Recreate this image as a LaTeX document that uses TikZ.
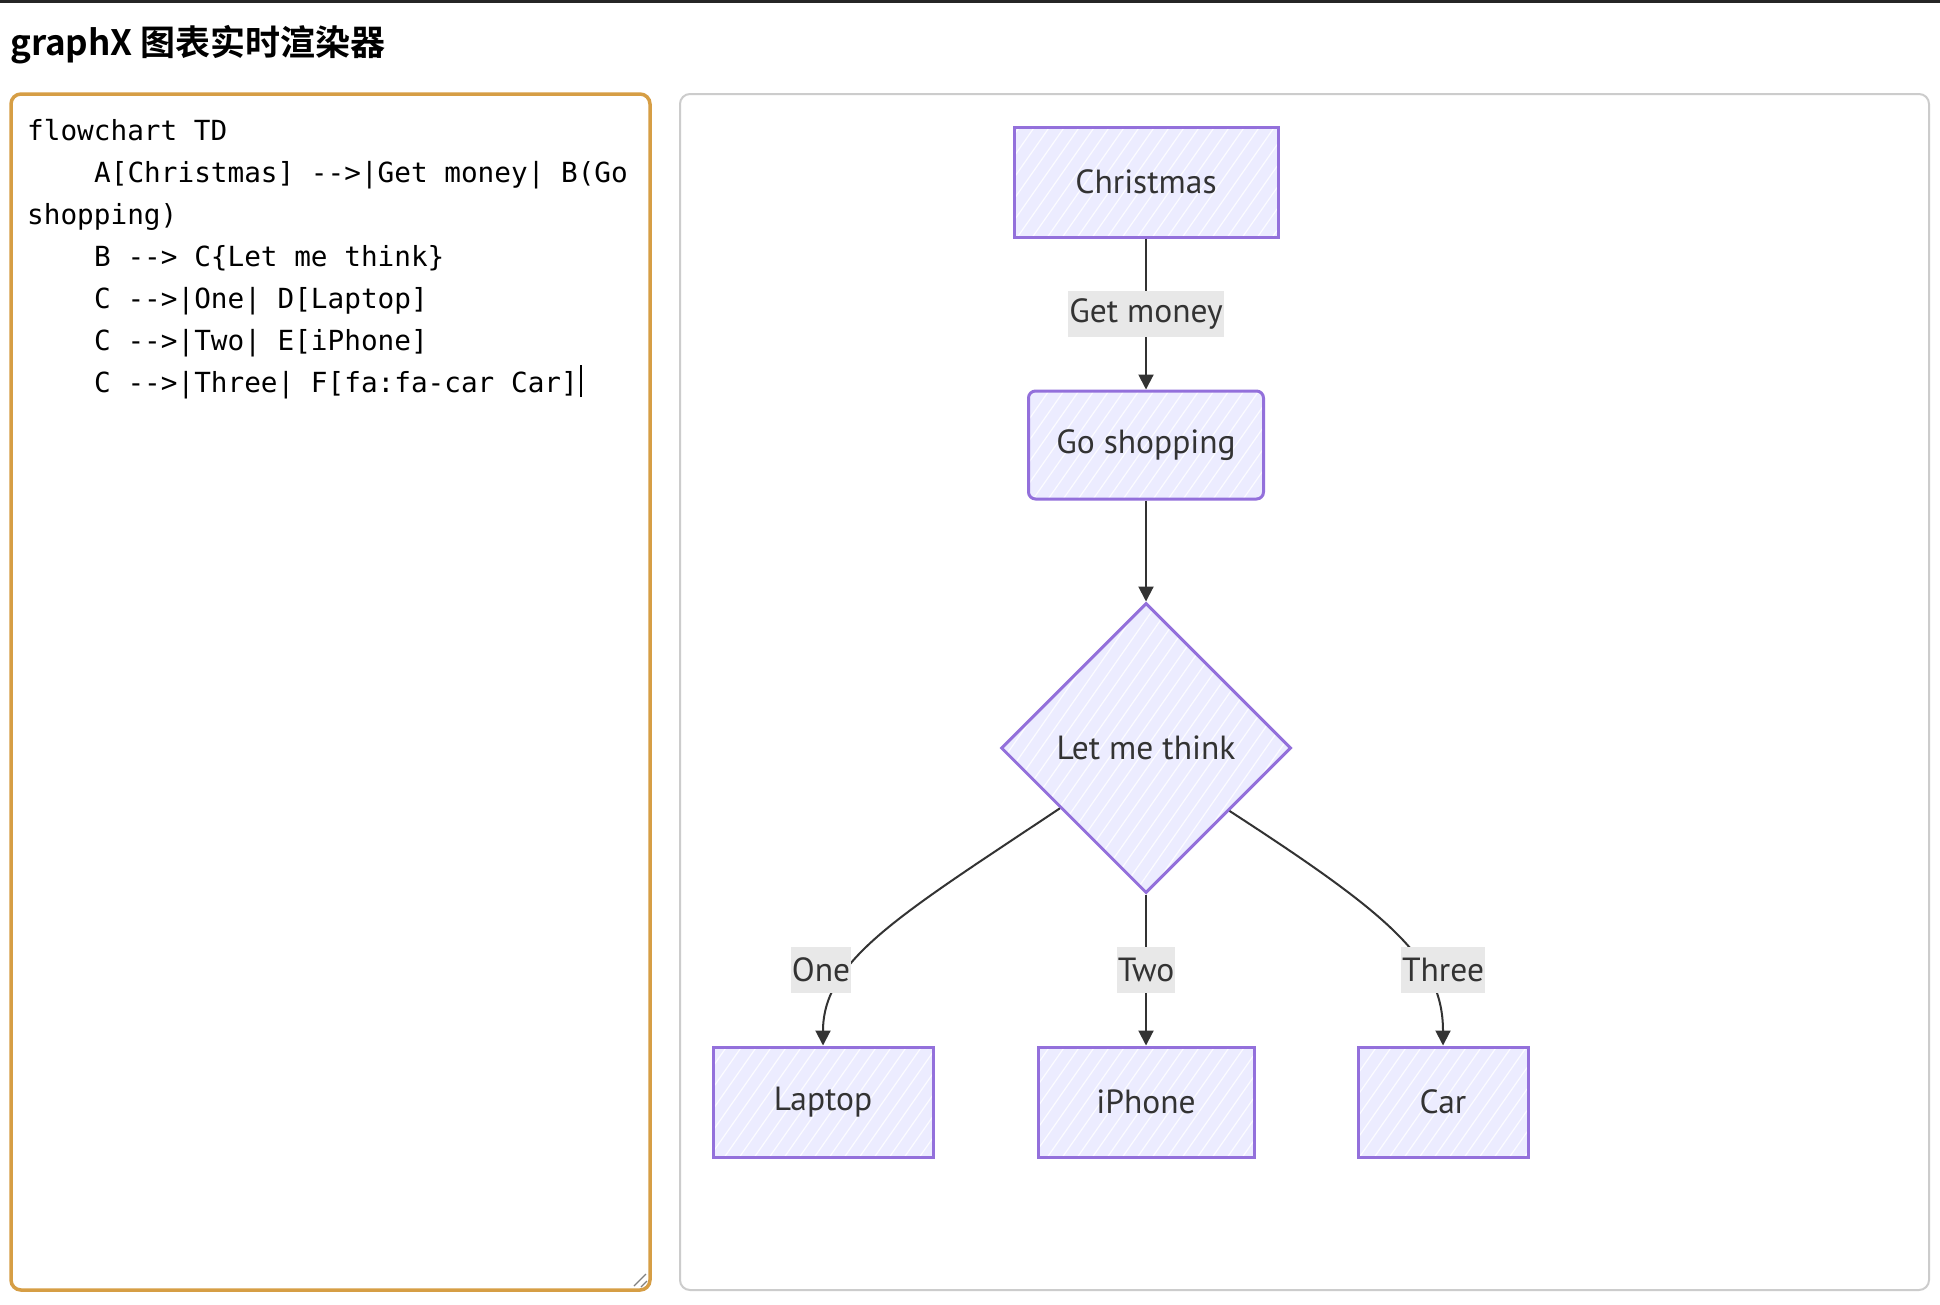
\documentclass[tikz,border=0pt]{standalone}
\usepackage{fontspec}
\setmainfont{PT Sans}
\setmonofont{DejaVu Sans Mono}
\newfontfamily\cjk{Noto Sans CJK SC}[BoldFont={Noto Sans CJK SC Bold}]
\usetikzlibrary{shapes.geometric,arrows.meta,calc}
\definecolor{nodefill}{HTML}{ECECFF}
\definecolor{nodeline}{HTML}{9370DB}
\definecolor{edgeline}{HTML}{333333}
\definecolor{labelfill}{HTML}{E8E8E8}
\definecolor{editline}{HTML}{D69E45}
\definecolor{panelline}{HTML}{CCCCCC}
\begin{document}
\begin{tikzpicture}[x=1pt,y=-1pt,
  sketch/.style={draw=nodeline,line width=3pt,fill=nodefill,inner sep=0pt,text=edgeline,
    font=\fontsize{33.5pt}{40pt}\selectfont,
    path picture={\foreach \k in {-25,...,25}{
      \draw[white,line width=1.2pt,opacity=.85] ($(path picture bounding box.center)+(\k*15pt,0pt)$) ++(55:-300pt) -- ++(55:600pt);}}},
  box/.style={sketch,rectangle,minimum height=110pt},
  elabel/.style={fill=labelfill,text=edgeline,inner xsep=1pt,inner ysep=0pt,minimum height=46pt,
    font=\fontsize{33.5pt}{40pt}\selectfont},
  edge/.style={draw=edgeline,line width=2pt,-{Triangle[length=15pt,width=15pt]}},
  code/.style={anchor=base west,inner sep=0pt,font=\ttfamily\fontsize{27.7pt}{34pt}\selectfont}]

\useasboundingbox (0,0) rectangle (1940,1304);
\fill[white] (0,0) rectangle (1940,1304);
\fill[black!85] (0,0) rectangle (1940,3);

\node[anchor=base west,inner sep=0pt,font=\cjk\bfseries\fontsize{35pt}{42pt}\selectfont] (title) at (10,55) {graphX 图表实时渲染器};

\draw[editline,line width=3.5pt,rounded corners=10pt] (11,94) rectangle (650,1290);
\draw[panelline,line width=2pt,rounded corners=10pt] (680,94) rectangle (1929,1290);
\draw[gray,line width=1.2pt] (634,1286) -- (646,1274) (641,1287) -- (647,1281);

\node[code] (line1) at (27,140) {flowchart TD};
\node[code] (line2) at (94,182) {A[Christmas] -->|Get money| B(Go};
\node[code] (line3) at (27,224) {shopping)};
\node[code] (line4) at (94,266) {B --> C\{Let me think\}};
\node[code] (line5) at (94,308) {C -->|One| D[Laptop]};
\node[code] (line6) at (94,350) {C -->|Two| E[iPhone]};
\node[code] (line7) at (94,392) {C -->|Three| F[fa:fa-car Car]};
\draw[line width=1.5pt] ([xshift=3pt]line7.base east) ++(0,5) -- ++(0,-32);

\node[box,minimum width=264pt] (xmas) at (1146,182) {Christmas};
\node[box,rounded corners=7pt,minimum width=235pt,minimum height=108pt] (shop) at (1146,445) {Go shopping};
\node[sketch,diamond,minimum width=290pt,minimum height=290pt] (think) at (1146,748) {Let me think};
\node[box,minimum width=220pt] (laptop) at (823,1102) {Laptop};
\node[box,minimum width=216pt] (iphone) at (1146,1102) {iPhone};
\node[box,minimum width=170pt] (car) at (1443,1102) {Car};

\draw[edge] (xmas) -- node[elabel] (money) {Get money} (shop);
\draw[edge] (shop) -- (think);
\draw[edge] (think.215) .. controls (900,915) and (823,960) .. (laptop.north);
\draw[edge] (think) -- node[elabel] (two) {Two} (iphone);
\draw[edge] (think.323) .. controls (1390,915) and (1443,960) .. (car.north);
\node[elabel] (one) at (821,970) {One};
\node[elabel] (three) at (1443,970) {Three};

\end{tikzpicture}
\end{document}
